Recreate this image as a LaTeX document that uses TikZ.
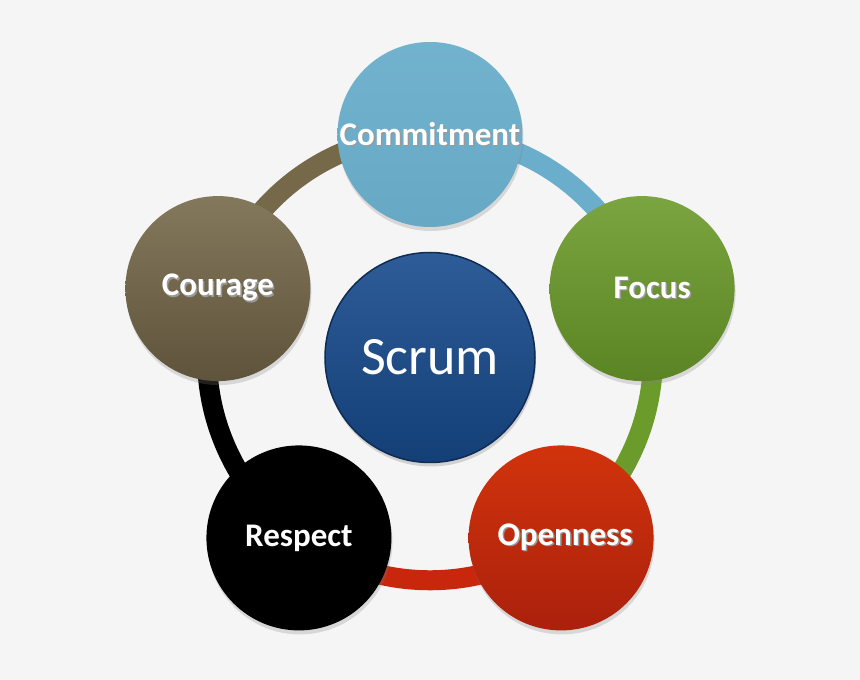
\documentclass[tikz,border=0pt]{standalone}
\usepackage{fontspec}
\setmainfont{Carlito}
\usetikzlibrary{shadows,backgrounds}

\definecolor{bgc}{HTML}{F5F5F5}
\definecolor{cmblue}{HTML}{6AAECB}
\definecolor{fogreen}{HTML}{6B9B2A}
\definecolor{opred}{HTML}{C9260E}
\definecolor{cobrown}{HTML}{76694A}
\definecolor{scblue}{HTML}{174A8C}

\newcommand{\shadowed}[1]{\makebox[0pt][l]{\kern1.5pt\raisebox{-1.5pt}{\textcolor{black!40}{#1}}}#1}

\tikzset{
  value/.style={circle,minimum size=185pt,inner sep=0pt,text=white,
    font=\bfseries\fontsize{33}{36}\selectfont,
    drop shadow={shadow xshift=1pt,shadow yshift=-4pt,opacity=.25}},
  ring/.style={line width=20pt,
    preaction={draw=black,opacity=.12,transform canvas={yshift=-3pt}}},
}

\begin{document}
\begin{tikzpicture}[x=1pt,y=1pt]
\useasboundingbox (-430,-322.5) rectangle (430,357.5);

% the core
\node[circle,minimum size=210pt,inner sep=0pt,text=white,
  top color=scblue!90!white,bottom color=scblue!85!black,
  draw=scblue!60!black,line width=1.5pt,
  font=\fontsize{54}{60}\selectfont,
  drop shadow={shadow xshift=1pt,shadow yshift=-4pt,opacity=.3}] (sc) at (0,0) {Scrum};

% the five values
\node[value,top color=cmblue!95!white,bottom color=cmblue!97!black] (cm) at (90:223) {\shadowed{Commitment}};
\node[value,top color=fogreen!90!white,bottom color=fogreen!85!black] (fo) at (18:223) {\hspace*{20pt}\shadowed{Focus}};
\node[value,top color=opred!85!orange,bottom color=opred!85!black] (op) at (-54:223) {\hspace*{8pt}\shadowed{Openness}};
\node[value,fill=black] (re) at (-126:223) {Respect};
\node[value,top color=cobrown!90!white,bottom color=cobrown!80!black] (co) at (162:223) {\shadowed{Courage}};

\begin{pgfonlayer}{background}
\fill[bgc] (-430,-322.5) rectangle (430,357.5);
\draw[ring,cmblue] (cm.center) to[bend left=36,looseness=.94] (fo.center);
\draw[ring,fogreen] (fo.center) to[bend left=36,looseness=.94] (op.center);
\draw[ring,opred] (op.center) to[bend left=36,looseness=.94] (re.center);
\draw[ring,black] (re.center) to[bend left=36,looseness=.94] (co.center);
\draw[ring,cobrown] (co.center) to[bend left=36,looseness=.94] (cm.center);
\end{pgfonlayer}
\end{tikzpicture}
\end{document}
